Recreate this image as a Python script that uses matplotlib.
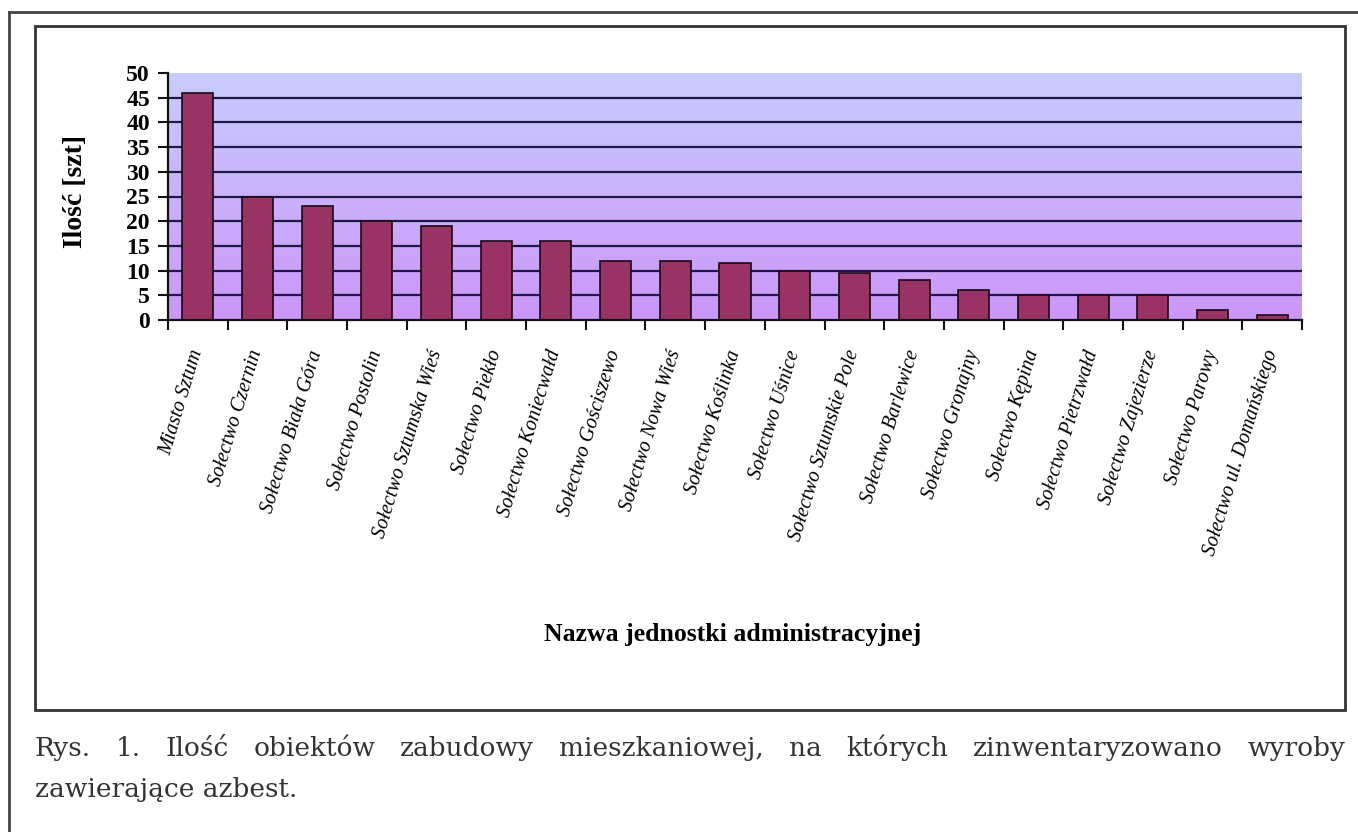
import numpy as np
import matplotlib
matplotlib.use("Agg")
import matplotlib.pyplot as plt
from matplotlib.colors import LinearSegmentedColormap
from matplotlib.lines import Line2D
from matplotlib.patches import Rectangle

# data
units = ['Miasto Sztum', 'Sołectwo Czernin', 'Sołectwo Biała Góra', 'Sołectwo Postolin',
         'Sołectwo Sztumska Wieś', 'Sołectwo Piekło', 'Sołectwo Koniecwałd',
         'Sołectwo Gościszewo', 'Sołectwo Nowa Wieś', 'Sołectwo Koślinka',
         'Sołectwo Uśnice', 'Sołectwo Sztumskie Pole', 'Sołectwo Barlewice',
         'Sołectwo Gronajny', 'Sołectwo Kępina', 'Sołectwo Pietrzwałd',
         'Sołectwo Zajezierze', 'Sołectwo Parowy', 'Sołectwo ul. Domańskiego']
counts = [46, 25, 23, 20, 19, 16, 16, 12, 12, 11.5, 10, 9.5, 8, 6, 5, 5, 5, 2, 1]
y_ticks = [0, 5, 10, 15, 20, 25, 30, 35, 40, 45, 50]

y_title = 'Ilość [szt]'
x_title = 'Nazwa jednostki administracyjnej'
caption_line1 = 'Rys. 1. Ilość obiektów zabudowy mieszkaniowej, na których zinwentaryzowano wyroby'
caption_line2 = 'zawierające azbest.'

W, H = 1358, 832
fig = plt.figure(figsize=(W / 100, H / 100), dpi=100)
serif = 'Liberation Serif'

# outer page frame lines and chart box
fig.add_artist(Line2D([9 / W, 1.0], [1 - 12 / H, 1 - 12 / H], color='#444444', lw=2))
fig.add_artist(Line2D([9 / W, 9 / W], [0, 1 - 12 / H], color='#444444', lw=2))
fig.add_artist(Rectangle((35 / W, 1 - 710 / H), (1345 - 35) / W, (710 - 26) / H,
                         fill=False, edgecolor='#333333', lw=2))

ax = fig.add_axes([168 / W, 1 - 320 / H, (1302 - 168) / W, (320 - 73) / H])
n = len(units)
x = np.arange(n)
ax.set_xlim(-0.5, n - 0.5)
ax.set_ylim(0, 50)

# gradient background of the plot area
cmap = LinearSegmentedColormap.from_list('bg', ['#cc96f8', '#c8ccff'])
grad = np.linspace(0, 1, 256).reshape(-1, 1)
ax.imshow(grad, aspect='auto', cmap=cmap, origin='lower',
          extent=[-0.5, n - 0.5, 0, 50], zorder=0)

for yv in y_ticks[1:-1]:
    ax.axhline(yv, color='#1c1a44', lw=1.6, zorder=1)

ax.bar(x, counts, width=0.52, color='#993366', edgecolor='#1a0a14', lw=1.2, zorder=2)

for s in ['top', 'right']:
    ax.spines[s].set_visible(False)
for s in ['left', 'bottom']:
    ax.spines[s].set_color('#111111')
    ax.spines[s].set_linewidth(1.6)
    ax.spines[s].set_zorder(3)

ax.set_yticks(y_ticks)
ax.set_yticklabels([str(v) for v in y_ticks], fontfamily=serif, fontweight='bold', fontsize=17)
ax.tick_params(axis='y', length=7, width=1.5, color='#111111', pad=6)

ax.set_xticks(x)
ax.set_xticklabels(units, rotation=73, ha='right', va='center', rotation_mode='anchor',
                   fontfamily=serif, fontstyle='italic', fontsize=14.5)
ax.set_xticks(np.arange(-0.5, n), minor=True)
ax.tick_params(axis='x', which='major', length=0, pad=22)
ax.tick_params(axis='x', which='minor', length=7, width=1.5, color='#111111')

fig.text(75 / W, 1 - 192 / H, y_title, rotation=90, ha='center', va='center',
         fontfamily=serif, fontweight='bold', fontsize=20)
fig.text(733 / W, 1 - 635 / H, x_title, ha='center', va='center',
         fontfamily=serif, fontweight='bold', fontsize=18.5)

# justified caption
fig.canvas.draw()
renderer = fig.canvas.get_renderer()
words = caption_line1.split(' ')
cap_kw = dict(fontfamily='DejaVu Serif', fontsize=19, color='#333333', va='baseline')
arts = [fig.text(0, 0, w_, **cap_kw) for w_ in words]
widths = [a.get_window_extent(renderer).width for a in arts]
left_px, right_px = 35, 1345
gap = (right_px - left_px - sum(widths)) / (len(words) - 1)
pos = left_px
for a, wd in zip(arts, widths):
    a.set_position((pos / W, 1 - 756 / H))
    pos += wd + gap
fig.text(left_px / W, 1 - 797 / H, caption_line2, **cap_kw)

fig.savefig('out.png', dpi=100, facecolor='white')
